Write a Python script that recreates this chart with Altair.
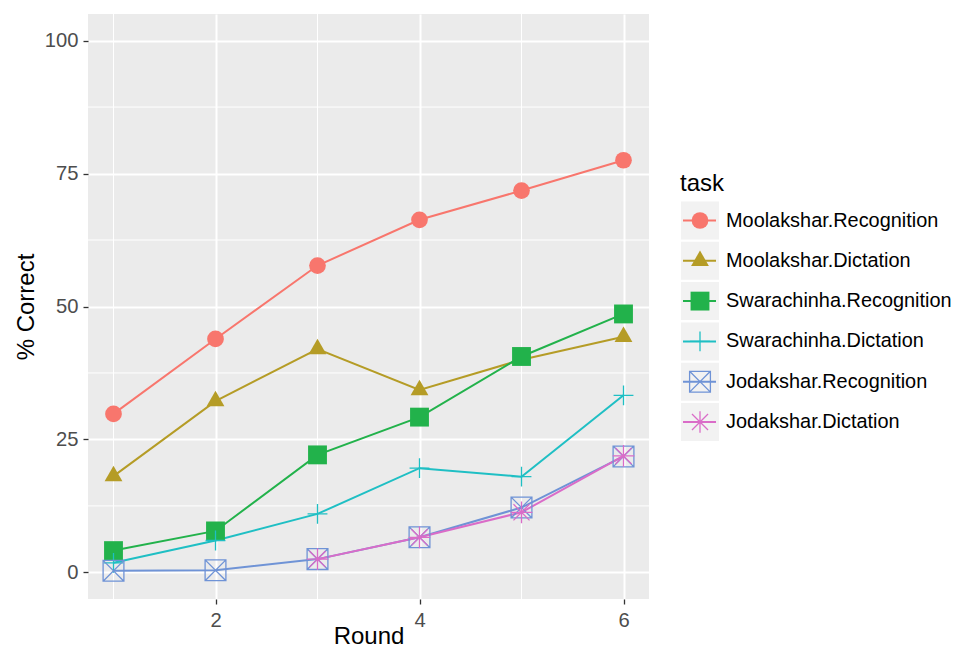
import altair as alt
import pandas as pd

rounds = [1, 2, 3, 4, 5, 6]
tasks = [
    "Moolakshar.Recognition",
    "Moolakshar.Dictation",
    "Swarachinha.Recognition",
    "Swarachinha.Dictation",
    "Jodakshar.Recognition",
    "Jodakshar.Dictation",
]
moolakshar_recognition = [29.8, 43.9, 57.7, 66.3, 71.8, 77.5]
moolakshar_dictation = [18.1, 32.2, 42.0, 34.3, 40.0, 44.3]
swarachinha_recognition = [4.1, 7.8, 22.1, 29.2, 40.6, 48.6]
swarachinha_dictation = [1.8, 6.0, 11.0, 19.6, 18.0, 33.3]
jodakshar_recognition = [0.3, 0.4, 2.5, 6.6, 12.2, 21.8]
jodakshar_dictation = [None, None, 2.5, 6.6, 11.3, 21.9]
series = [moolakshar_recognition, moolakshar_dictation, swarachinha_recognition,
          swarachinha_dictation, jodakshar_recognition, jodakshar_dictation]

x_breaks = [2, 4, 6]
x_minor = [1, 3, 5]
y_breaks = [0, 25, 50, 75, 100]
y_minor = [12.5, 37.5, 62.5, 87.5]

colors = ["#F8766D", "#B59C26", "#22B24B", "#1FBFC4", "#6F93D6", "#DA6CC8"]
shapes = [
    "circle",
    "M0,-1.155L1,0.577L-1,0.577Z",
    "square",
    "M-1,0L1,0M0,-1L0,1",
    "M-1,-1L1,-1L1,1L-1,1ZM-1,-1L1,1M-1,1L1,-1",
    "M-1,0L1,0M0,-1L0,1M-0.74,-0.74L0.74,0.74M-0.74,0.74L0.74,-0.74",
]
sizes = [279, 471, 256, 471, 266, 529]
filled_tasks = tasks[:3]

rows = []
for t, vals in zip(tasks, series):
    for r, v in zip(rounds, vals):
        rows.append({"task": t, "round": r, "pct": v})
df = pd.DataFrame(rows)
df_filled = df[df["task"].isin(filled_tasks)]
df_open = df[~df["task"].isin(filled_tasks)]

leg = pd.DataFrame({"task": tasks})
leg_filled = leg[leg["task"].isin(filled_tasks)]
leg_open = leg[~leg["task"].isin(filled_tasks)]

FONT = "Liberation Sans"

xscale = alt.Scale(domain=[0.75, 6.25], nice=False, zero=False)
yscale = alt.Scale(domain=[-5, 105], nice=False, zero=False)
xaxis = alt.Axis(values=x_breaks, title="Round", titlePadding=-6, labelPadding=6)
yaxis = alt.Axis(values=y_breaks, title="% Correct", titlePadding=6, labelPadding=5)
X = alt.X("round:Q", scale=xscale, axis=xaxis)
Y = alt.Y("pct:Q", scale=yscale, axis=yaxis)

color = alt.Color("task:N", scale=alt.Scale(domain=tasks, range=colors), legend=None)
shape = alt.Shape("task:N", scale=alt.Scale(domain=tasks, range=shapes), legend=None)
size = alt.Size("task:O", scale=alt.Scale(domain=tasks, range=sizes), legend=None)

minor_x = alt.Chart(pd.DataFrame({"round": x_minor})).mark_rule(
    color="white", strokeWidth=1).encode(x=X)
minor_y = alt.Chart(pd.DataFrame({"pct": y_minor})).mark_rule(
    color="white", strokeWidth=1).encode(y=Y)

lines = alt.Chart(df).mark_line(strokeWidth=2).encode(x=X, y=Y, color=color)
pts_filled = alt.Chart(df_filled).mark_point(filled=True, opacity=1, strokeWidth=0).encode(
    x=X, y=Y, color=color, shape=shape, size=size)
pts_open = alt.Chart(df_open).mark_point(filled=False, opacity=1, strokeWidth=1.3).encode(
    x=X, y=Y, color=color, shape=shape, size=size)

main = alt.layer(minor_x, minor_y, lines, pts_filled, pts_open)

LY = alt.Y("task:N", scale=alt.Scale(type="point", domain=tasks, range=[206.5, 408], padding=0), axis=None)
KEY_X = 612

leg_keys = alt.Chart(leg).mark_square(size=1444, color="#F2F2F2", opacity=1).encode(
    x=alt.value(KEY_X), y=LY)
leg_lines = alt.Chart(leg).mark_rule(strokeWidth=2).encode(
    x=alt.value(KEY_X - 17), x2=alt.value(KEY_X + 16), y=LY, color=color)
leg_pf = alt.Chart(leg_filled).mark_point(filled=True, opacity=1, strokeWidth=0).encode(
    x=alt.value(KEY_X), y=LY, color=color, shape=shape, size=size)
leg_po = alt.Chart(leg_open).mark_point(filled=False, opacity=1, strokeWidth=1.3).encode(
    x=alt.value(KEY_X), y=LY, color=color, shape=shape, size=size)
leg_text = alt.Chart(leg).mark_text(
    align="left", baseline="middle", font=FONT, fontSize=19.9, color="black").encode(
    x=alt.value(KEY_X + 26), y=LY, text="task:N")
leg_title = alt.Chart(pd.DataFrame({"t": ["task"]})).mark_text(
    align="left", baseline="alphabetic", font=FONT, fontSize=24, color="black").encode(
    x=alt.value(KEY_X - 20), y=alt.value(177), text="t:N")

legend = alt.layer(leg_keys, leg_lines, leg_pf, leg_po, leg_text, leg_title)

chart = alt.layer(main, legend).resolve_scale(y="independent").properties(
    width=561, height=585,
    autosize=alt.AutoSizeParams(type="none"),
    padding={"left": 80, "top": 6, "right": 303, "bottom": 49},
).configure_view(
    fill="#EBEBEB", stroke=None
).configure_axis(
    domain=False,
    grid=True, gridColor="white", gridWidth=2,
    tickColor="#333333", tickSize=5, tickWidth=1.3,
    labelFont=FONT, labelFontSize=20.2, labelColor="#4D4D4D",
    titleFont=FONT, titleFontSize=24, titleColor="black", titleFontWeight="normal",
)

chart.save("out.html", embed_options={"renderer": "svg", "actions": False})
